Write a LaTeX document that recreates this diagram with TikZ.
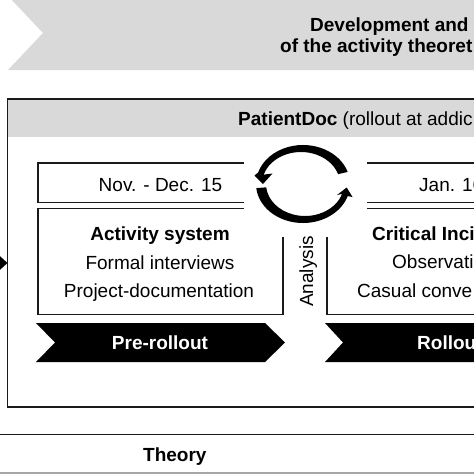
\documentclass[tikz,border=0pt]{standalone}
\usepackage{fontspec}
\setmainfont{Liberation Sans}
\usetikzlibrary{arrows.meta}
\definecolor{bannergray}{HTML}{D9D9D9}
\definecolor{linegray}{HTML}{A6A6A6}
\definecolor{framecol}{HTML}{1A1A1A}
\begin{document}
\begin{tikzpicture}[x=1pt,y=-1pt,
  lbl/.style={inner sep=0pt, anchor=base west, font=\fontsize{19pt}{22pt}\selectfont},
  lblb/.style={inner sep=0pt, anchor=base west, font=\fontsize{19pt}{22pt}\selectfont\bfseries},
  boxline/.style={draw=framecol, line width=1.6pt},
  chevfill/.style={fill=black},
  cyclearrow/.style={fill=black}
]
\useasboundingbox (0,0) rectangle (474,474);
\clip (0,0) rectangle (474,474);
% top banner
\fill[bannergray] (8,-4) -- (620,-4) -- (620,70) -- (8,70) -- (43,33) -- cycle;
\node[lblb] (dev1) at (310,31) {Development and};
\node[lblb] (dev2) at (280,52) {of the activity theoret};
% main box
\fill[bannergray] (7.5,99) rectangle (620,137);
\draw[boxline] (620,99) -- (7.5,99) -- (7.5,407) -- (620,407);
\node[lbl] (pd) at (238,125) {\textbf{PatientDoc} (rollout at addic};
% inner boxes
\draw[boxline] (38,162.7) rectangle (283,202.3);
\draw[boxline] (38,208.3) rectangle (283,314.3);
\draw[boxline] (327,162.7) rectangle (640,202.3);
\draw[boxline] (327,208.3) rectangle (640,314.3);
\fill[white] (244,140) rectangle (367,236.5);
% texts of boxes
\node[lbl, anchor=base] (nov) at (160.5,191) {Nov. - Dec. 15};
\node[lbl] (jan) at (419,191) {Jan. 16};
\node[lblb, anchor=base] (act) at (160,240) {Activity system};
\node[lbl, anchor=base] (fi) at (160,269) {Formal interviews};
\node[lbl, anchor=base] (pdoc) at (159,297) {Project-documentation};
\node[lblb] (ci) at (372,240) {Critical Inci};
\node[lbl] (obs) at (392,268) {Observati};
\node[lbl] (cc) at (357,297) {Casual conve};
% analysis
\node[lbl, rotate=90, anchor=base west] (ana) at (313,307) {Analysis};
% cycle arrows
\fill[cyclearrow] (347.70,171.95) arc[start angle=-18,end angle=-163,x radius=47,y radius=39]
  -- (254.5,175.5) -- (263,184) -- (272.5,173.5) -- (263.70,174.64)
  arc[start angle=-163,end angle=-18,x radius=39,y radius=32] -- cycle;
\fill[cyclearrow] (256.26,188.08) arc[start angle=174,end angle=18,x radius=47,y radius=39]
  -- (352.5,197) -- (346.7,187.5) -- (337,195) -- (342.09,193.89)
  arc[start angle=18,end angle=174,x radius=39,y radius=32] -- cycle;
% chevrons
\fill[chevfill] (36,323) -- (265,323) -- (285,342.5) -- (265,362) -- (36,362) -- (55,342.5) -- cycle;
\fill[chevfill] (325,323) -- (640,323) -- (640,362) -- (325,362) -- (343,342.5) -- cycle;
\node[lblb, text=white, anchor=base] (pre) at (160,349) {Pre-rollout};
\node[lblb, text=white] (roll) at (417,349) {Rollou};
% incoming arrow
\coordinate (inL) at (-25,263);
\coordinate (mainW) at (7.5,263);
\draw[line width=2pt, -{Triangle[length=8pt,width=14pt]}] (inL) -- (mainW);
% theory
\draw[draw=framecol, line width=1.5pt] (-5,434.3) -- (640,434.3);
\node[lblb] (theory) at (143,461) {Theory};
\fill[linegray] (-5,471.5) rectangle (640,480);
\end{tikzpicture}
\end{document}
